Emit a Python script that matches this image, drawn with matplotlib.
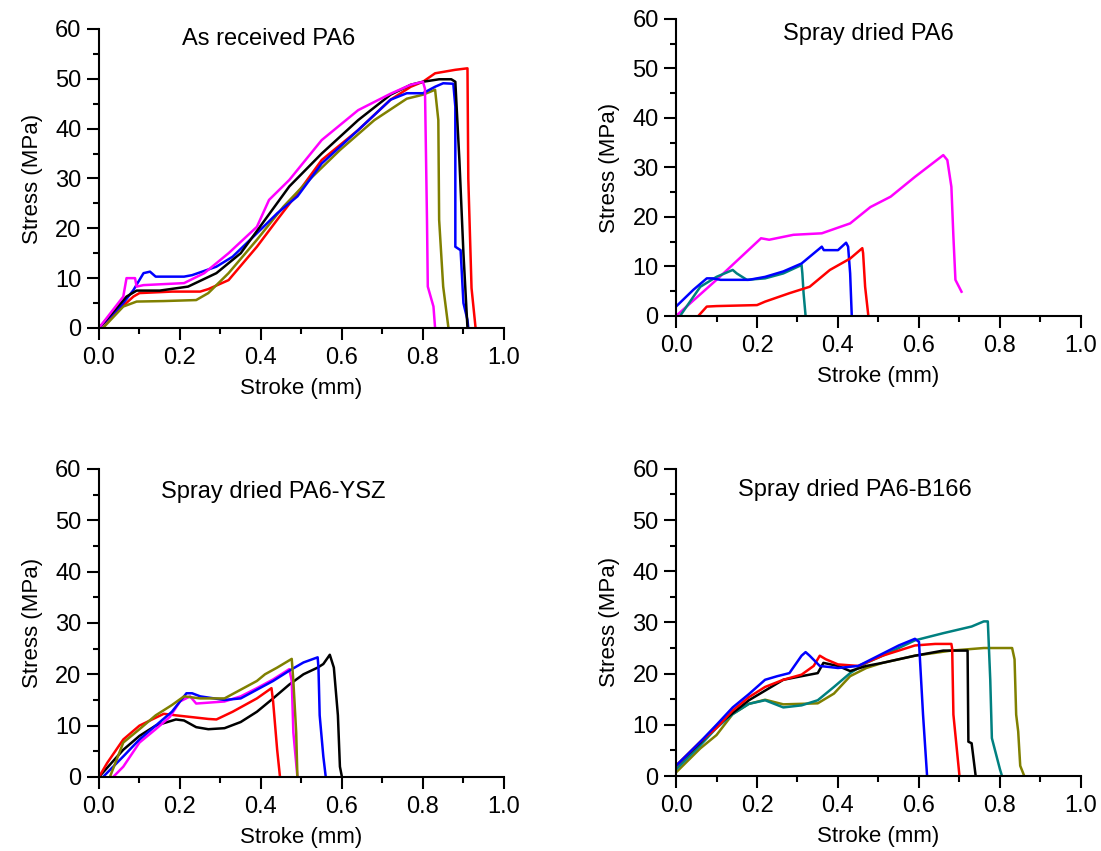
import matplotlib.pyplot as plt
from matplotlib.ticker import MultipleLocator

plt.rcParams["font.family"] = ["Liberation Sans", "DejaVu Sans"]

# Colours used for the repeated specimens
RED = "#ff0000"
BLACK = "#000000"
BLUE = "#0000ff"
MAGENTA = "#ff00ff"
OLIVE = "#808000"
TEAL = "#008080"

# ---- As received PA6 (stroke mm, stress MPa)
ar_red_x = [0.0, 0.04, 0.085, 0.10, 0.18, 0.25, 0.27, 0.32, 0.39, 0.44, 0.49, 0.55, 0.64, 0.72, 0.77, 0.80, 0.83, 0.88, 0.91, 0.912, 0.92, 0.93]
ar_red_y = [0.0, 3.0, 6.3, 7.0, 7.3, 7.3, 7.8, 9.6, 16.3, 21.7, 27.0, 33.7, 39.7, 45.8, 48.4, 49.4, 51.1, 51.8, 52.1, 30.0, 8.0, 0.0]
ar_olive_x = [0.01, 0.06, 0.093, 0.16, 0.24, 0.27, 0.32, 0.39, 0.455, 0.51, 0.595, 0.68, 0.76, 0.80, 0.83, 0.838, 0.84, 0.85, 0.863]
ar_olive_y = [0.0, 4.3, 5.3, 5.4, 5.6, 7.0, 11.0, 17.7, 24.3, 29.0, 35.7, 41.7, 46.0, 46.8, 47.8, 41.7, 21.7, 8.3, 0.0]
ar_blue_x = [0.0, 0.06, 0.085, 0.11, 0.126, 0.14, 0.21, 0.23, 0.29, 0.33, 0.39, 0.44, 0.49, 0.55, 0.64, 0.72, 0.76, 0.80, 0.83, 0.85, 0.875, 0.88, 0.88, 0.893, 0.90, 0.91, 0.912]
ar_blue_y = [0.0, 5.0, 7.6, 11.0, 11.3, 10.3, 10.3, 10.6, 12.3, 14.3, 19.0, 23.0, 26.4, 33.0, 39.7, 45.8, 47.1, 47.1, 48.4, 49.1, 49.0, 44.4, 16.3, 15.6, 5.0, 1.6, 0.0]
ar_black_x = [0.0, 0.068, 0.093, 0.15, 0.22, 0.29, 0.35, 0.41, 0.47, 0.55, 0.64, 0.72, 0.77, 0.80, 0.84, 0.87, 0.88, 0.89, 0.90, 0.91]
ar_black_y = [0.0, 6.3, 7.5, 7.5, 8.3, 11.0, 15.0, 21.7, 28.4, 35.0, 41.7, 46.8, 48.8, 49.4, 49.9, 49.9, 49.4, 33.7, 15.0, 0.0]
ar_mag_x = [0.0, 0.06, 0.068, 0.089, 0.093, 0.11, 0.21, 0.26, 0.32, 0.39, 0.42, 0.47, 0.55, 0.64, 0.72, 0.77, 0.80, 0.805, 0.81, 0.812, 0.826, 0.83]
ar_mag_y = [0.0, 6.3, 10.0, 10.0, 8.3, 8.6, 9.0, 11.0, 15.0, 20.3, 25.7, 29.7, 37.7, 43.7, 47.0, 48.8, 49.4, 48.0, 21.7, 8.3, 4.3, 0.0]

# ---- Spray dried PA6
sd_mag_x = [0.0, 0.10, 0.21, 0.23, 0.29, 0.36, 0.43, 0.48, 0.53, 0.59, 0.66, 0.67, 0.68, 0.685, 0.69, 0.705]
sd_mag_y = [0.0, 7.3, 15.7, 15.4, 16.4, 16.7, 18.7, 22.0, 24.1, 28.1, 32.5, 31.5, 26.1, 16.0, 7.3, 4.9]
sd_blue_x = [0.0, 0.043, 0.076, 0.09, 0.11, 0.18, 0.22, 0.265, 0.31, 0.36, 0.365, 0.40, 0.42, 0.425, 0.43, 0.434]
sd_blue_y = [1.9, 5.3, 7.6, 7.6, 7.3, 7.3, 7.9, 9.0, 10.6, 14.0, 13.3, 13.3, 14.8, 14.0, 8.6, 0.0]
sd_teal_x = [0.01, 0.06, 0.10, 0.14, 0.15, 0.175, 0.22, 0.265, 0.31, 0.312, 0.315, 0.32]
sd_teal_y = [0.0, 5.9, 7.9, 9.3, 8.6, 7.3, 7.6, 8.6, 10.3, 8.6, 4.6, 0.0]
sd_red_x = [0.055, 0.076, 0.10, 0.20, 0.22, 0.28, 0.33, 0.38, 0.43, 0.46, 0.462, 0.467, 0.475]
sd_red_y = [0.0, 1.9, 2.0, 2.2, 2.9, 4.6, 5.9, 9.3, 11.6, 13.7, 12.7, 5.9, 0.0]

# ---- Spray dried PA6-YSZ
ysz_black_x = [0.0, 0.06, 0.10, 0.14, 0.19, 0.21, 0.24, 0.27, 0.31, 0.35, 0.39, 0.43, 0.47, 0.505, 0.54, 0.554, 0.57, 0.58, 0.59, 0.595, 0.60]
ysz_black_y = [0.0, 5.3, 8.0, 10.0, 11.2, 11.0, 9.7, 9.3, 9.5, 10.7, 12.7, 15.3, 18.0, 20.0, 21.3, 22.0, 23.8, 21.3, 12.0, 2.0, 0.0]
ysz_blue_x = [0.01, 0.06, 0.10, 0.14, 0.18, 0.216, 0.23, 0.25, 0.31, 0.35, 0.39, 0.43, 0.47, 0.505, 0.54, 0.542, 0.545, 0.554, 0.56]
ysz_blue_y = [0.0, 4.0, 7.3, 10.0, 12.7, 16.3, 16.3, 15.7, 15.0, 15.3, 17.0, 18.7, 20.7, 22.3, 23.3, 21.3, 12.0, 4.0, 0.0]
ysz_olive_x = [0.027, 0.06, 0.10, 0.14, 0.18, 0.21, 0.25, 0.31, 0.35, 0.39, 0.41, 0.44, 0.476, 0.48, 0.487, 0.49]
ysz_olive_y = [0.0, 6.7, 9.3, 12.0, 14.0, 15.7, 15.3, 15.3, 17.0, 18.7, 20.0, 21.3, 23.0, 18.7, 8.7, 0.0]
ysz_mag_x = [0.035, 0.06, 0.10, 0.14, 0.175, 0.20, 0.225, 0.24, 0.31, 0.35, 0.39, 0.43, 0.47, 0.476, 0.48, 0.49]
ysz_mag_y = [0.0, 2.0, 6.7, 9.3, 11.7, 14.7, 15.7, 14.3, 14.7, 15.7, 17.3, 19.0, 21.0, 18.7, 8.7, 0.0]
ysz_red_x = [0.0, 0.02, 0.06, 0.10, 0.16, 0.19, 0.27, 0.29, 0.33, 0.39, 0.426, 0.43, 0.44, 0.447]
ysz_red_y = [0.0, 2.7, 7.3, 10.0, 12.3, 12.0, 11.3, 11.2, 12.7, 15.3, 17.3, 14.7, 5.3, 0.0]

# ---- Spray dried PA6-B166
b166_teal_x = [0.0, 0.06, 0.10, 0.14, 0.18, 0.22, 0.265, 0.31, 0.35, 0.39, 0.43, 0.47, 0.51, 0.59, 0.66, 0.73, 0.76, 0.77, 0.776, 0.78, 0.80, 0.805]
b166_teal_y = [1.3, 6.0, 9.4, 12.1, 14.1, 14.8, 13.4, 13.8, 14.8, 17.4, 20.1, 22.1, 23.5, 26.5, 27.9, 29.2, 30.2, 30.2, 18.8, 7.4, 1.3, 0.0]
b166_olive_x = [0.0, 0.06, 0.10, 0.14, 0.18, 0.22, 0.265, 0.31, 0.35, 0.39, 0.43, 0.47, 0.51, 0.59, 0.68, 0.76, 0.83, 0.836, 0.84, 0.845, 0.85, 0.86]
b166_olive_y = [0.7, 5.4, 8.0, 12.1, 14.1, 14.9, 14.0, 14.1, 14.2, 16.1, 19.5, 21.1, 22.1, 23.5, 24.5, 25.0, 25.0, 22.8, 12.0, 8.7, 2.0, 0.0]
b166_black_x = [0.0, 0.06, 0.10, 0.18, 0.265, 0.31, 0.35, 0.364, 0.40, 0.43, 0.47, 0.51, 0.59, 0.66, 0.72, 0.722, 0.73, 0.74]
b166_black_y = [2.0, 6.5, 9.8, 14.8, 18.8, 19.5, 20.1, 22.1, 21.5, 20.5, 21.5, 22.1, 23.5, 24.5, 24.5, 6.7, 6.4, 0.0]
b166_red_x = [0.0, 0.06, 0.10, 0.14, 0.18, 0.22, 0.265, 0.31, 0.34, 0.355, 0.37, 0.40, 0.45, 0.51, 0.59, 0.64, 0.68, 0.682, 0.685, 0.70]
b166_red_y = [2.0, 6.7, 9.4, 12.8, 15.4, 17.4, 18.8, 19.8, 21.5, 23.5, 22.8, 21.8, 21.5, 23.5, 25.5, 25.8, 25.8, 24.8, 12.0, 0.0]
b166_blue_x = [0.0, 0.06, 0.10, 0.14, 0.18, 0.22, 0.25, 0.28, 0.31, 0.32, 0.33, 0.355, 0.40, 0.45, 0.50, 0.55, 0.59, 0.60, 0.61, 0.62]
b166_blue_y = [2.0, 6.7, 10.0, 13.4, 16.0, 18.8, 19.5, 20.1, 23.5, 24.2, 23.5, 21.5, 21.1, 21.5, 23.5, 25.5, 26.8, 26.2, 12.0, 0.0]

panels = [
    ("As received PA6", [0.0899, 0.6146, 0.3678, 0.3514], (0.42, 0.965),
     [(ar_red_x, ar_red_y, RED), (ar_olive_x, ar_olive_y, OLIVE),
      (ar_blue_x, ar_blue_y, BLUE), (ar_black_x, ar_black_y, BLACK),
      (ar_mag_x, ar_mag_y, MAGENTA)]),
    ("Spray dried PA6", [0.614, 0.6287, 0.3678, 0.349], (0.474, 0.95),
     [(sd_mag_x, sd_mag_y, MAGENTA), (sd_teal_x, sd_teal_y, TEAL),
      (sd_blue_x, sd_blue_y, BLUE), (sd_red_x, sd_red_y, RED)]),
    ("Spray dried PA6-YSZ", [0.0899, 0.087, 0.3678, 0.362], (0.43, 0.925),
     [(ysz_black_x, ysz_black_y, BLACK), (ysz_red_x, ysz_red_y, RED),
      (ysz_mag_x, ysz_mag_y, MAGENTA), (ysz_blue_x, ysz_blue_y, BLUE),
      (ysz_olive_x, ysz_olive_y, OLIVE)]),
    ("Spray dried PA6-B166", [0.614, 0.0881, 0.3678, 0.361], (0.442, 0.93),
     [(b166_olive_x, b166_olive_y, OLIVE), (b166_teal_x, b166_teal_y, TEAL),
      (b166_black_x, b166_black_y, BLACK), (b166_red_x, b166_red_y, RED),
      (b166_blue_x, b166_blue_y, BLUE)]),
]

fig = plt.figure(figsize=(11.01, 8.51), dpi=100)

for title, rect, tpos, curves in panels:
    ax = fig.add_axes(rect)
    for x, y, c in curves:
        ax.plot(x, y, color=c, linewidth=1.8)
    ax.set_xlim(0, 1.0)
    ax.set_ylim(0, 60)
    ax.xaxis.set_major_locator(MultipleLocator(0.2))
    ax.xaxis.set_minor_locator(MultipleLocator(0.1))
    ax.yaxis.set_major_locator(MultipleLocator(10))
    ax.yaxis.set_minor_locator(MultipleLocator(5))
    ax.xaxis.set_major_formatter(plt.FuncFormatter(lambda v, p: f"{v:.1f}"))
    ax.spines["top"].set_visible(False)
    ax.spines["right"].set_visible(False)
    for s in ("left", "bottom"):
        ax.spines[s].set_linewidth(1.5)
    ax.tick_params(which="major", direction="out", length=8.5, width=1.5, labelsize=17, pad=4)
    ax.tick_params(which="minor", direction="out", length=4.5, width=1.5)
    ax.tick_params(axis="x", which="major", pad=5)
    ax.set_xlabel("Stroke (mm)", fontsize=16, labelpad=7)
    ax.set_ylabel("Stress (MPa)", fontsize=16, labelpad=9)
    ax.text(tpos[0], tpos[1], title, transform=ax.transAxes, ha="center", va="center", fontsize=17)

fig.savefig("out.png", dpi=100)
